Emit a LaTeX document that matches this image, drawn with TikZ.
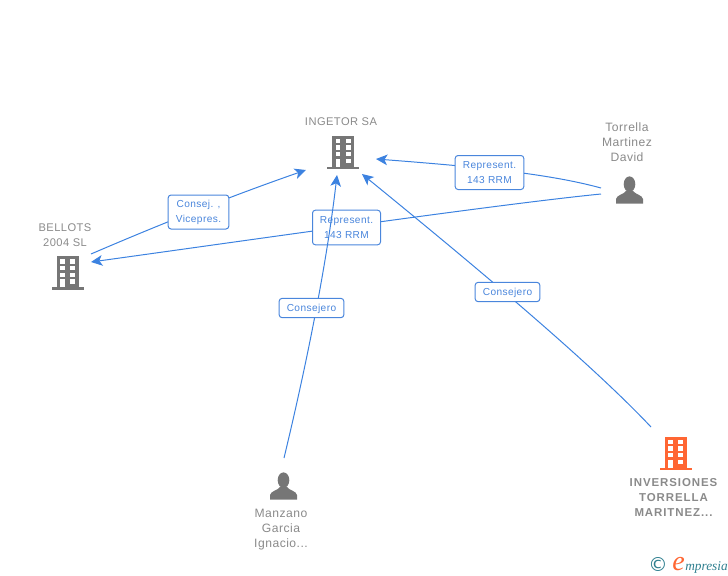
\documentclass[tikz,border=0pt]{standalone}
\usepackage{fontspec}
\setmainfont{Liberation Sans}
\newfontfamily\spacedfont[LetterSpace=4]{Liberation Sans}
\newfontfamily\widefont[LetterSpace=8]{Liberation Sans}
\newfontfamily\logofont{Liberation Serif}
\newfontfamily\symfont{DejaVu Sans}
\usetikzlibrary{arrows.meta}
\definecolor{icongray}{HTML}{767676}
\definecolor{textgray}{HTML}{8A8A8A}
\definecolor{linkblue}{HTML}{3C82E0}
\definecolor{labelblue}{HTML}{4A86DC}
\definecolor{accent}{HTML}{FF6633}
\definecolor{logoteal}{HTML}{2F7F8F}
\tikzset{
  link/.style={draw=linkblue,line width=0.75pt},
  arrowed/.style={link,-{Stealth[length=8.5pt,width=8pt,inset=2.2pt]}},
  tagbase/.style={draw=labelblue,line width=0.75pt,fill=white,rounded corners=2.2pt,text=labelblue,
    font=\fontsize{7.6}{11.25}\selectfont\spacedfont,align=center,inner sep=0pt},
  tagbox/.style={tagbase,execute at begin node={\rule{0pt}{7pt}}},
  tagtwo/.style={tagbase,execute at begin node={\rule{0pt}{8.4pt}}},
  nametext/.style={text=textgray,font=\fontsize{9.1}{11.25}\selectfont\spacedfont,align=center,inner sep=0pt},
  capsname/.style={text=textgray,font=\fontsize{8.35}{11.25}\selectfont\spacedfont,align=center,inner sep=0pt},
  boldname/.style={text=textgray,font=\fontsize{8.6}{11.25}\selectfont\bfseries\widefont,align=center,inner sep=0pt},
  building/.pic={
    \fill[pic actions] (-11,-33.5) rectangle (11,0);
    \fill[pic actions] (-16,-2.5) rectangle (16,0);
    \foreach \wy in {-30.3,-23.6,-17}{
      \fill[white] (-7.2,\wy) rectangle (-2.6,\wy+4.3);
      \fill[white] (2.9,\wy) rectangle (7.5,\wy+4.3);
    }
    \fill[white] (-7.2,-10.3) rectangle (-2.6,-2.5);
    \fill[white] (2.9,-10.3) rectangle (7.5,-6);
  },
  person/.pic={
    \fill[pic actions] (0,-19.3) ellipse (5.8 and 7.8);
    \fill[pic actions] (-13.5,0) -- (-13.5,-4.5) .. controls (-13,-8.5) and (-5.5,-9) .. (-3.2,-13)
      -- (3.2,-13) .. controls (5.5,-9) and (13,-8.5) .. (13.5,-4.5) -- (13.5,0) -- cycle;
  }
}
\begin{document}
\begin{tikzpicture}[x=0.75pt,y=-0.75pt]
\useasboundingbox (0,0) rectangle (728,575);
% icons
\pic[fill=icongray] (ingetorIcon) at (343,169) {building};
\pic[fill=icongray] (bellotsIcon) at (67.5,289.5) {building};
\pic[fill=accent] (inversionesIcon) at (675.5,470) {building};
\pic[fill=icongray] (torrellaIcon) at (629.5,203.5) {person};
\pic[fill=icongray] (manzanoIcon) at (283.5,499.5) {person};
% names
\node[capsname] (ingetorName) at (341,121.5) {INGETOR SA};
\node[nametext] (torrellaName) at (627,142) {Torrella\\Martinez\\David};
\node[capsname] (bellotsName) at (65,235) {BELLOTS\\2004 SL};
\node[nametext] (manzanoName) at (281,530) {Manzano\\Garcia\\Ignacio...};
\node[boldname] (inversionesName) at (673.5,497) {INVERSIONES\\TORRELLA\\MARITNEZ...};
% connector ends
\coordinate (torrellaA) at (601,188);
\coordinate (torrellaB) at (601,194);
\coordinate (ingetorE) at (376,159);
\coordinate (ingetorW) at (306,170);
\coordinate (ingetorS) at (337,175);
\coordinate (ingetorSE) at (362,174);
\coordinate (bellotsIn) at (91,262);
\coordinate (bellotsOut) at (91,254);
\coordinate (manzanoOut) at (284,458);
\coordinate (inversionesOut) at (651,427);
% connectors and labels
\draw[arrowed] (torrellaB) .. controls (500,204) and (250,240) .. (bellotsIn);
\node[tagtwo,minimum width=51pt,minimum height=26pt] (tagRepB) at (346.5,227.5) {Represent.\\143 RRM};
\draw[arrowed] (bellotsOut) .. controls (163,223) and (234,195) .. (ingetorW);
\node[tagtwo,minimum width=45.5pt,minimum height=25.5pt] (tagConsej) at (198.5,212) {Consej. ,\\Vicepres.};
\draw[arrowed] (torrellaA) .. controls (550,174) and (480,167) .. (ingetorE);
\node[tagtwo,minimum width=51.5pt,minimum height=25.5pt] (tagRepA) at (489.5,172.5) {Represent.\\143 RRM};
\draw[arrowed] (manzanoOut) .. controls (304,375) and (326,270) .. (ingetorS);
\node[tagbox,minimum width=48.5pt,minimum height=14.5pt] (tagConsM) at (311.5,308) {Consejero};
\draw[arrowed] (inversionesOut) .. controls (590,362) and (470,262) .. (ingetorSE);
\node[tagbox,minimum width=48.5pt,minimum height=14.5pt] (tagConsI) at (507.5,292) {Consejero};
% logo
\node[inner sep=0pt,text=logoteal,font=\fontsize{14.5}{15}\selectfont\symfont] (logoC) at (658,564) {©};
\node[inner sep=0pt,anchor=base west,text=accent,font=\fontsize{21}{21}\selectfont\logofont\itshape] (logoE) at (672,570) {e};
\node[inner sep=0pt,anchor=base west,text=logoteal,font=\fontsize{10}{10}\selectfont\logofont\itshape] (logoText) at (685,570) {mpresia};
\end{tikzpicture}
\end{document}
